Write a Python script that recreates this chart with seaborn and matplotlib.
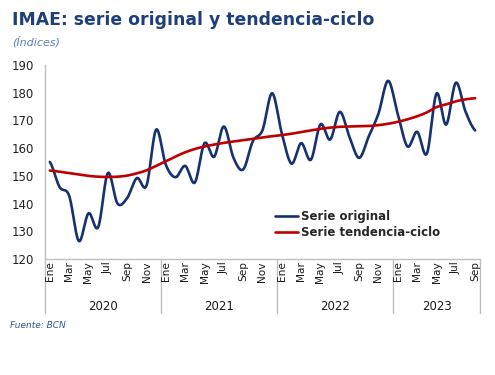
import matplotlib
matplotlib.use("Agg")
import matplotlib.pyplot as plt
import matplotlib.transforms as mtransforms
from matplotlib.lines import Line2D
import seaborn as sns
import pandas as pd
import numpy as np

# data (monthly, Ene 2020 - Sep 2023)
years = ["2020", "2021", "2022", "2023"]
month_names = ["Ene", "Feb", "Mar", "Abr", "May", "Jun", "Jul", "Ago", "Sep", "Oct", "Nov", "Dic"]
n_months = 45

serie_original = [
    155.0, 146.0, 142.8, 126.5, 136.5, 131.5, 151.0, 140.0, 142.0, 149.2, 146.5, 166.7,
    154.0, 149.5, 153.6, 147.6, 161.8, 156.9, 167.8, 156.5, 152.3, 162.5, 166.5, 179.8,
    165.3, 154.4, 161.8, 155.8, 168.6, 163.1, 173.1, 164.0, 156.5, 164.3, 172.5, 184.3,
    172.2, 160.6, 165.9, 158.0, 179.7, 168.5, 183.6, 173.2, 166.4,
]
serie_tendencia = [
    151.9, 151.5, 151.0, 150.5, 150.0, 149.7, 149.6, 149.7, 150.1, 150.9, 152.0, 153.6,
    155.3, 157.0, 158.5, 159.7, 160.6, 161.3, 161.9, 162.4, 162.9, 163.4, 163.9, 164.3,
    164.7, 165.2, 165.8, 166.4, 167.0, 167.4, 167.7, 167.8, 167.9, 168.0, 168.3, 168.8,
    169.5, 170.4, 171.5, 172.9, 174.8, 175.8, 176.9, 177.6, 178.0,
]


def smooth(y, steps=16):
    # Excel-style smoothed line (Catmull-Rom through the monthly points)
    y = np.asarray(y, dtype=float)
    p = np.concatenate([[y[0]], y, [y[-1]]])
    xs, ys = [], []
    t = np.linspace(0, 1, steps, endpoint=False)
    for i in range(len(y) - 1):
        p0, p1, p2, p3 = p[i], p[i + 1], p[i + 2], p[i + 3]
        yy = 0.5 * ((2 * p1) + (-p0 + p2) * t + (2 * p0 - 5 * p1 + 4 * p2 - p3) * t ** 2
                    + (-p0 + 3 * p1 - 3 * p2 + p3) * t ** 3)
        xs.extend(i + t)
        ys.extend(yy)
    xs.append(len(y) - 1)
    ys.append(y[-1])
    return np.array(xs), np.array(ys)


x1, y1 = smooth(serie_original)
x2, y2 = smooth(serie_tendencia)
df = pd.concat([
    pd.DataFrame({"mes": x1, "valor": y1, "serie": "Serie original"}),
    pd.DataFrame({"mes": x2, "valor": y2, "serie": "Serie tendencia-ciclo"}),
])

sns.set_style("white")
plt.rcParams["font.family"] = ["DejaVu Sans"]

navy = "#15326e"
red = "#c00000"
grey = "#bfbfbf"

fig = plt.figure(figsize=(4.95, 3.75), dpi=100)
ax = fig.add_axes([45 / 495, 1 - 259 / 375, 435 / 495, 194 / 375])

sns.lineplot(data=df, x="mes", y="valor", hue="serie",
             palette={"Serie original": navy, "Serie tendencia-ciclo": red},
             linewidth=1.9, ax=ax, legend=False, sort=False)

ax.set_xlim(-0.5, n_months - 0.5)
ax.set_ylim(120, 190)
ax.set_yticks(range(120, 191, 10))
ax.tick_params(axis="y", length=0, labelsize=8.5, colors="#222222", pad=8)
ax.set_xlabel("")
ax.set_ylabel("")

for s in ["top", "right"]:
    ax.spines[s].set_visible(False)
for s in ["left", "bottom"]:
    ax.spines[s].set_color(grey)
    ax.spines[s].set_linewidth(1.0)

# month ticks every two months, labels in between
bounds = list(np.arange(-0.5, n_months - 0.5, 2)) + [n_months - 0.5]
ax.set_xticks(bounds)
ax.set_xticklabels([])
ax.tick_params(axis="x", length=25, width=1.0, color=grey, direction="out")

trans = mtransforms.blended_transform_factory(ax.transData, ax.transAxes)
for i in range(0, n_months, 2):
    ax.text(i, -0.012, month_names[i % 12], transform=trans, rotation=90,
            ha="center", va="top", fontsize=7.6, color="#1a1a1a")

# year separators and labels
year_bounds = [-0.5, 11.5, 23.5, 35.5, n_months - 0.5]
for xb in year_bounds:
    ax.add_line(Line2D([xb, xb], [0, -54 / 194], transform=trans, color=grey,
                       linewidth=1.0, clip_on=False))
for k, yr in enumerate(years):
    xc = (year_bounds[k] + year_bounds[k + 1]) / 2
    ax.text(xc, -47 / 194, yr, transform=trans, ha="center", va="center",
            fontsize=8.5, color="#1a1a1a")

# legend
handles = [Line2D([], [], color=navy, linewidth=1.9),
           Line2D([], [], color=red, linewidth=1.9)]
leg = ax.legend(handles, ["Serie original", "Serie tendencia-ciclo"],
                loc="upper left", bbox_to_anchor=(225 / 435, 1 - 140 / 194),
                frameon=False, handlelength=2.0, handletextpad=0.2,
                labelspacing=0.25, borderaxespad=0,
                prop={"size": 8.5, "weight": "bold"})

fig.text(12 / 495, 1 - 20 / 375, "IMAE: serie original y tendencia-ciclo",
         fontsize=12.4, fontweight="bold", color="#1f3f7a", va="center", ha="left")
fig.text(12 / 495, 1 - 42 / 375, "(Índices)", fontsize=8, style="italic",
         color="#5b7db3", va="center", ha="left")
fig.text(10 / 495, 1 - 326 / 375, "Fuente: BCN", fontsize=6.5, style="italic",
         color="#2f5597", va="center", ha="left")

fig.savefig("out.png", dpi=100)
